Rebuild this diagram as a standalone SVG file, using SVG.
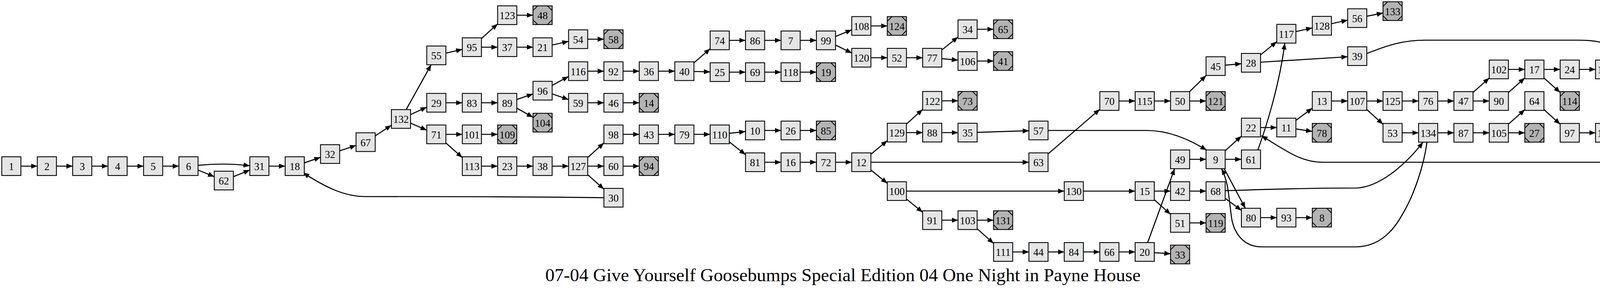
<svg xmlns="http://www.w3.org/2000/svg" xmlns:xlink="http://www.w3.org/1999/xlink" width="4320" height="741" viewBox="0 0 4320 741">
<style>
.node rect{fill:#e5e5e5;stroke:#000;stroke-width:2.2}
.term rect{fill:#b3b3b3}
.node text{font-family:"Liberation Serif","Times New Roman",serif;font-size:26.5px;text-anchor:middle;fill:#000}
.edges path{stroke:#000;stroke-width:2.7;fill:none;marker-end:url(#ah)}
.title{font-family:"Liberation Serif","Times New Roman",serif;font-size:47.3px;text-anchor:middle;fill:#000}
</style>
<defs>
<marker id="ah" markerUnits="userSpaceOnUse" viewBox="0 0 16 13" markerWidth="16" markerHeight="13" refX="16" refY="6.5" orient="auto"><path d="M0,0 L16,6.5 L0,13 z" fill="#000"/></marker>
<path id="diag" d="M-24.5,-12 L-12.5,-24 M12.5,-24 L24.5,-12 M24.5,12 L12.5,24 M-12.5,24 L-24.5,12" stroke="#000" stroke-width="2" fill="none"/>
</defs>
<rect width="4320" height="741" fill="#fff"/>
<g id="connectors" class="edges">
<path d="M53.5,426 L95.5,426"/>
<path d="M144.5,426 L186,426"/>
<path d="M235,426 L276.5,426"/>
<path d="M325.5,426 L367.5,426"/>
<path d="M416.5,426 L458,426"/>
<path d="M507,424 Q573,417 639.5,425"/>
<path d="M507,436 L548.5,453"/>
<path d="M597.5,453 L639.5,436"/>
<path d="M688.5,426 L730,426"/>
<path d="M779,417.6 L820.5,403.4"/>
<path d="M869.5,386.8 L911.5,372.7"/>
<path d="M960.5,348.4 L1002,321.1"/>
<path d="M1039.8,281 L1103.7,166"/>
<path d="M1051,293.8 L1092.5,274.7"/>
<path d="M1051,315.7 L1092.5,333.8"/>
<path d="M1141.5,136.3 L1183.5,126.6"/>
<path d="M1232.5,98.8 L1274,61.2"/>
<path d="M1232.5,121 L1274,121"/>
<path d="M1323,39 L1364.5,39"/>
<path d="M1323,121 L1364.5,121"/>
<path d="M1413.5,115.5 L1455.5,106"/>
<path d="M1141.5,263.5 L1183.5,263.5"/>
<path d="M1232.5,263.5 L1274,263.5"/>
<path d="M1323,255.1 L1364.5,240.9"/>
<path d="M1323,277.3 L1364.5,300.7"/>
<path d="M1413.5,219 L1455.5,196"/>
<path d="M1413.5,240.8 L1455.5,255.2"/>
<path d="M1141.5,344.5 L1183.5,344.5"/>
<path d="M1232.5,344.5 L1274,344.5"/>
<path d="M1141.5,366.4 L1183.5,404.1"/>
<path d="M1232.5,426 L1274,426"/>
<path d="M1323,426 L1364.5,426"/>
<path d="M1413.5,426 L1455.5,426"/>
<path d="M1546,507 C1400,504 1000,504 935,504 C880,504 830,478 776,443"/>
<path d="M1504.5,100.5 L1546,100.5"/>
<path d="M1504.5,182.5 L1546,182.5"/>
<path d="M1595,182.5 L1636.5,182.5"/>
<path d="M1685.5,182.5 L1727.5,182.5"/>
<path d="M1776.5,161.1 L1818,124.9"/>
<path d="M1776.5,183.2 L1818,184.3"/>
<path d="M1867,103.5 L1908.5,103.5"/>
<path d="M1957.5,103.5 L1999.5,103.5"/>
<path d="M2048.5,103.5 L2090,103.5"/>
<path d="M2139,93.5 L2180.5,76.5"/>
<path d="M2139,115.5 L2180.5,136"/>
<path d="M1867,185 L1908.5,185"/>
<path d="M1957.5,185 L1999.5,185"/>
<path d="M2048.5,185 L2090,185"/>
<path d="M1504.5,263.5 L1546,263.5"/>
<path d="M1595,263.5 L1636.5,263.5"/>
<path d="M1504.5,403.9 L1546,366.6"/>
<path d="M1504.5,426 L1546,426"/>
<path d="M1504.5,447.9 L1546,485.1"/>
<path d="M1595,426 L1636.5,426"/>
<path d="M1595,344.5 L1636.5,344.5"/>
<path d="M1685.5,344.5 L1727.5,344.5"/>
<path d="M1776.5,344.5 L1818,344.5"/>
<path d="M1867,341.8 L1908.5,337.2"/>
<path d="M1867,363.9 L1908.5,396.6"/>
<path d="M1957.5,334.5 L1999.5,334.5"/>
<path d="M2048.5,334.5 L2090,334.5"/>
<path d="M1957.5,416 L1999.5,416"/>
<path d="M2048.5,416 L2090,416"/>
<path d="M2139,416 L2180.5,416"/>
<path d="M2229.5,66.5 L2271.5,66.5"/>
<path d="M2229.5,148 L2271.5,148"/>
<path d="M2320.5,148 L2362,148"/>
<path d="M2411,128.2 L2452.5,94.8"/>
<path d="M2411,150.3 L2452.5,154.2"/>
<path d="M2501.5,75 L2543.5,75"/>
<path d="M2501.5,156.5 L2543.5,156.5"/>
<path d="M2229.5,395.5 L2271.5,360.5"/>
<path d="M2229.5,416 L2634,416"/>
<path d="M2229.5,435.9 L2271.5,470.1"/>
<path d="M2320.5,317.9 L2362,280.6"/>
<path d="M2320.5,340 L2362,340"/>
<path d="M2411,258.5 L2452.5,258.5"/>
<path d="M2411,340 L2452.5,340"/>
<path d="M2501.5,339.3 L2634,335.2"/>
<path d="M2683,334.5 L2935,334.5 C2990,334.5 3040,355 3089,385"/>
<path d="M2683,394.8 L2815.5,280.2"/>
<path d="M2864.5,259 L2906,259"/>
<path d="M2320.5,490 L2724.5,490"/>
<path d="M2320.5,510.2 L2362,544.3"/>
<path d="M2773.5,490 L2906,490"/>
<path d="M2411,564.5 L2452.5,564.5"/>
<path d="M2501.5,564.5 L2543.5,564.5"/>
<path d="M2501.5,586.4 L2543.5,624.1"/>
<path d="M2592.5,646 L2634,646"/>
<path d="M2683,646 L2724.5,646"/>
<path d="M2773.5,646 L2815.5,646"/>
<path d="M2864.5,646 L2906,646"/>
<path d="M2955,259 L2996.5,259"/>
<path d="M3045.4,235 L3087.6,193.5"/>
<path d="M3045.5,259 L3087.5,259"/>
<path d="M3136.5,167.2 L3178,163.3"/>
<path d="M3227,140.8 L3268.5,106.7"/>
<path d="M3227,159.5 L3450,145.5"/>
<path d="M3317.5,81 L3359.5,71.5"/>
<path d="M3408.5,60.7 L3450,51.8"/>
<path d="M3499,41.6 L3540.5,33.4"/>
<path d="M3499,137 C3540,122 3580,103 3650,103 L4040,103 C4090,103 4120,110 4140,135 C4165,170 4183,250 4192,316.5"/>
<path d="M3220,385 C3240,330 3275,220 3289,111"/>
<path d="M3136.5,386.4 L3178,349.1"/>
<path d="M3136.5,408.5 L3178,408.5"/>
<path d="M3045.5,408.5 L3087.5,408.5"/>
<path d="M2955,490 L2996.5,490"/>
<path d="M2955,512.1 L2996.5,549.4"/>
<path d="M3045.5,490 L3087.5,490"/>
<path d="M3045.5,571.5 L3087.5,571.5"/>
<path d="M2938,622 L3007,432.5"/>
<path d="M2955,647.8 L2996.5,650.7"/>
<path d="M3227,327 L3268.5,327"/>
<path d="M3317.5,308.7 L3359.5,277.3"/>
<path d="M3317.5,330.6 L3359.5,336.9"/>
<path d="M3408.5,259 L3450,259"/>
<path d="M3499,259 L3540.5,259"/>
<path d="M3499,281.1 L3540.5,318.4"/>
<path d="M3589.5,259 L3631.5,259"/>
<path d="M3589.5,340.5 L3631.5,340.5"/>
<path d="M3136.5,508.4 L3178,539.6"/>
<path d="M3134,432.5 L3188,534"/>
<path d="M3653,365 C3645,425 3620,500 3590,550 C3560,605 3520,633 3470,633 L3230,633 C3185,633 3160,600 3153,560 C3146,510 3145,465 3127,432.5"/>
<path d="M3136.5,489 C3250,485 3400,482 3475,482 C3535,478 3600,420 3643,364.5"/>
<path d="M3227,558 L3268.5,558"/>
<path d="M3317.5,558 L3359.5,558"/>
<path d="M4266,385 C4220,400 4160,416 4100,416 L3385,416 C3330,416 3290,385 3229,348"/>
<path d="M3680.5,259 L3722,259"/>
<path d="M3771,237.1 L3812.5,199.9"/>
<path d="M3771,259 L3812.5,259"/>
<path d="M3861.5,178 L3903.5,178"/>
<path d="M3861.5,237.2 L3903.5,199.8"/>
<path d="M3952.5,178 L3994,178"/>
<path d="M3952.5,199.9 L3994,237.1"/>
<path d="M4043,178 L4084.5,178"/>
<path d="M4133.5,178 L4175.5,178"/>
<path d="M3680.5,340.5 L3722,340.5"/>
<path d="M3771,340.5 L3812.5,340.5"/>
<path d="M3861.5,318.6 L3903.5,280.9"/>
<path d="M3861.5,340.5 L3903.5,340.5"/>
<path d="M3952.5,281.1 L3994,318.4"/>
<path d="M4043,340.5 L4084.5,340.5"/>
<path d="M4133.5,340.5 L4175.5,340.5"/>
<path d="M4224.5,350.7 L4266,367.9"/>
</g>
<g id="n1" class="node" transform="translate(29,426)"><rect x="-24.5" y="-24" width="49" height="48"/><text y="10">1</text></g>
<g id="n2" class="node" transform="translate(120,426)"><rect x="-24.5" y="-24" width="49" height="48"/><text y="10">2</text></g>
<g id="n3" class="node" transform="translate(210.5,426)"><rect x="-24.5" y="-24" width="49" height="48"/><text y="10">3</text></g>
<g id="n4" class="node" transform="translate(301,426)"><rect x="-24.5" y="-24" width="49" height="48"/><text y="10">4</text></g>
<g id="n5" class="node" transform="translate(392,426)"><rect x="-24.5" y="-24" width="49" height="48"/><text y="10">5</text></g>
<g id="n6" class="node" transform="translate(482.5,426)"><rect x="-24.5" y="-24" width="49" height="48"/><text y="10">6</text></g>
<g id="n62" class="node" transform="translate(573,463)"><rect x="-24.5" y="-24" width="49" height="48"/><text y="10">62</text></g>
<g id="n31" class="node" transform="translate(664,426)"><rect x="-24.5" y="-24" width="49" height="48"/><text y="10">31</text></g>
<g id="n18" class="node" transform="translate(754.5,426)"><rect x="-24.5" y="-24" width="49" height="48"/><text y="10">18</text></g>
<g id="n32" class="node" transform="translate(845,395)"><rect x="-24.5" y="-24" width="49" height="48"/><text y="10">32</text></g>
<g id="n67" class="node" transform="translate(936,364.5)"><rect x="-24.5" y="-24" width="49" height="48"/><text y="10">67</text></g>
<g id="n132" class="node" transform="translate(1026.5,305)"><rect x="-24.5" y="-24" width="49" height="48"/><text y="10">132</text></g>
<g id="n55" class="node" transform="translate(1117,142)"><rect x="-24.5" y="-24" width="49" height="48"/><text y="10">55</text></g>
<g id="n29" class="node" transform="translate(1117,263.5)"><rect x="-24.5" y="-24" width="49" height="48"/><text y="10">29</text></g>
<g id="n71" class="node" transform="translate(1117,344.5)"><rect x="-24.5" y="-24" width="49" height="48"/><text y="10">71</text></g>
<g id="n95" class="node" transform="translate(1208,121)"><rect x="-24.5" y="-24" width="49" height="48"/><text y="10">95</text></g>
<g id="n83" class="node" transform="translate(1208,263.5)"><rect x="-24.5" y="-24" width="49" height="48"/><text y="10">83</text></g>
<g id="n101" class="node" transform="translate(1208,344.5)"><rect x="-24.5" y="-24" width="49" height="48"/><text y="10">101</text></g>
<g id="n113" class="node" transform="translate(1208,426)"><rect x="-24.5" y="-24" width="49" height="48"/><text y="10">113</text></g>
<g id="n123" class="node" transform="translate(1298.5,39)"><rect x="-24.5" y="-24" width="49" height="48"/><text y="10">123</text></g>
<g id="n37" class="node" transform="translate(1298.5,121)"><rect x="-24.5" y="-24" width="49" height="48"/><text y="10">37</text></g>
<g id="n89" class="node" transform="translate(1298.5,263.5)"><rect x="-24.5" y="-24" width="49" height="48"/><text y="10">89</text></g>
<g id="n109" class="node term" transform="translate(1298.5,344.5)"><rect x="-24.5" y="-24" width="49" height="48"/><use xlink:href="#diag"/><text y="10">109</text></g>
<g id="n23" class="node" transform="translate(1298.5,426)"><rect x="-24.5" y="-24" width="49" height="48"/><text y="10">23</text></g>
<g id="n48" class="node term" transform="translate(1389,39)"><rect x="-24.5" y="-24" width="49" height="48"/><use xlink:href="#diag"/><text y="10">48</text></g>
<g id="n21" class="node" transform="translate(1389,121)"><rect x="-24.5" y="-24" width="49" height="48"/><text y="10">21</text></g>
<g id="n96" class="node" transform="translate(1389,232.5)"><rect x="-24.5" y="-24" width="49" height="48"/><text y="10">96</text></g>
<g id="n104" class="node term" transform="translate(1389,314.5)"><rect x="-24.5" y="-24" width="49" height="48"/><use xlink:href="#diag"/><text y="10">104</text></g>
<g id="n38" class="node" transform="translate(1389,426)"><rect x="-24.5" y="-24" width="49" height="48"/><text y="10">38</text></g>
<g id="n54" class="node" transform="translate(1480,100.5)"><rect x="-24.5" y="-24" width="49" height="48"/><text y="10">54</text></g>
<g id="n116" class="node" transform="translate(1480,182.5)"><rect x="-24.5" y="-24" width="49" height="48"/><text y="10">116</text></g>
<g id="n59" class="node" transform="translate(1480,263.5)"><rect x="-24.5" y="-24" width="49" height="48"/><text y="10">59</text></g>
<g id="n127" class="node" transform="translate(1480,426)"><rect x="-24.5" y="-24" width="49" height="48"/><text y="10">127</text></g>
<g id="n58" class="node term" transform="translate(1570.5,100.5)"><rect x="-24.5" y="-24" width="49" height="48"/><use xlink:href="#diag"/><text y="10">58</text></g>
<g id="n92" class="node" transform="translate(1570.5,182.5)"><rect x="-24.5" y="-24" width="49" height="48"/><text y="10">92</text></g>
<g id="n46" class="node" transform="translate(1570.5,263.5)"><rect x="-24.5" y="-24" width="49" height="48"/><text y="10">46</text></g>
<g id="n98" class="node" transform="translate(1570.5,344.5)"><rect x="-24.5" y="-24" width="49" height="48"/><text y="10">98</text></g>
<g id="n60" class="node" transform="translate(1570.5,426)"><rect x="-24.5" y="-24" width="49" height="48"/><text y="10">60</text></g>
<g id="n30" class="node" transform="translate(1570.5,507)"><rect x="-24.5" y="-24" width="49" height="48"/><text y="10">30</text></g>
<g id="n36" class="node" transform="translate(1661,182.5)"><rect x="-24.5" y="-24" width="49" height="48"/><text y="10">36</text></g>
<g id="n14" class="node term" transform="translate(1661,263.5)"><rect x="-24.5" y="-24" width="49" height="48"/><use xlink:href="#diag"/><text y="10">14</text></g>
<g id="n43" class="node" transform="translate(1661,344.5)"><rect x="-24.5" y="-24" width="49" height="48"/><text y="10">43</text></g>
<g id="n94" class="node term" transform="translate(1661,426)"><rect x="-24.5" y="-24" width="49" height="48"/><use xlink:href="#diag"/><text y="10">94</text></g>
<g id="n40" class="node" transform="translate(1752,182.5)"><rect x="-24.5" y="-24" width="49" height="48"/><text y="10">40</text></g>
<g id="n79" class="node" transform="translate(1752,344.5)"><rect x="-24.5" y="-24" width="49" height="48"/><text y="10">79</text></g>
<g id="n74" class="node" transform="translate(1842.5,103.5)"><rect x="-24.5" y="-24" width="49" height="48"/><text y="10">74</text></g>
<g id="n25" class="node" transform="translate(1842.5,185)"><rect x="-24.5" y="-24" width="49" height="48"/><text y="10">25</text></g>
<g id="n110" class="node" transform="translate(1842.5,344.5)"><rect x="-24.5" y="-24" width="49" height="48"/><text y="10">110</text></g>
<g id="n86" class="node" transform="translate(1933,103.5)"><rect x="-24.5" y="-24" width="49" height="48"/><text y="10">86</text></g>
<g id="n69" class="node" transform="translate(1933,185)"><rect x="-24.5" y="-24" width="49" height="48"/><text y="10">69</text></g>
<g id="n10" class="node" transform="translate(1933,334.5)"><rect x="-24.5" y="-24" width="49" height="48"/><text y="10">10</text></g>
<g id="n81" class="node" transform="translate(1933,416)"><rect x="-24.5" y="-24" width="49" height="48"/><text y="10">81</text></g>
<g id="n7" class="node" transform="translate(2024,103.5)"><rect x="-24.5" y="-24" width="49" height="48"/><text y="10">7</text></g>
<g id="n118" class="node" transform="translate(2024,185)"><rect x="-24.5" y="-24" width="49" height="48"/><text y="10">118</text></g>
<g id="n26" class="node" transform="translate(2024,334.5)"><rect x="-24.5" y="-24" width="49" height="48"/><text y="10">26</text></g>
<g id="n16" class="node" transform="translate(2024,416)"><rect x="-24.5" y="-24" width="49" height="48"/><text y="10">16</text></g>
<g id="n99" class="node" transform="translate(2114.5,103.5)"><rect x="-24.5" y="-24" width="49" height="48"/><text y="10">99</text></g>
<g id="n19" class="node term" transform="translate(2114.5,185)"><rect x="-24.5" y="-24" width="49" height="48"/><use xlink:href="#diag"/><text y="10">19</text></g>
<g id="n85" class="node term" transform="translate(2114.5,334.5)"><rect x="-24.5" y="-24" width="49" height="48"/><use xlink:href="#diag"/><text y="10">85</text></g>
<g id="n72" class="node" transform="translate(2114.5,416)"><rect x="-24.5" y="-24" width="49" height="48"/><text y="10">72</text></g>
<g id="n108" class="node" transform="translate(2205,66.5)"><rect x="-24.5" y="-24" width="49" height="48"/><text y="10">108</text></g>
<g id="n120" class="node" transform="translate(2205,148)"><rect x="-24.5" y="-24" width="49" height="48"/><text y="10">120</text></g>
<g id="n12" class="node" transform="translate(2205,416)"><rect x="-24.5" y="-24" width="49" height="48"/><text y="10">12</text></g>
<g id="n124" class="node term" transform="translate(2296,66.5)"><rect x="-24.5" y="-24" width="49" height="48"/><use xlink:href="#diag"/><text y="10">124</text></g>
<g id="n52" class="node" transform="translate(2296,148)"><rect x="-24.5" y="-24" width="49" height="48"/><text y="10">52</text></g>
<g id="n129" class="node" transform="translate(2296,340)"><rect x="-24.5" y="-24" width="49" height="48"/><text y="10">129</text></g>
<g id="n100" class="node" transform="translate(2296,490)"><rect x="-24.5" y="-24" width="49" height="48"/><text y="10">100</text></g>
<g id="n77" class="node" transform="translate(2386.5,148)"><rect x="-24.5" y="-24" width="49" height="48"/><text y="10">77</text></g>
<g id="n122" class="node" transform="translate(2386.5,258.5)"><rect x="-24.5" y="-24" width="49" height="48"/><text y="10">122</text></g>
<g id="n88" class="node" transform="translate(2386.5,340)"><rect x="-24.5" y="-24" width="49" height="48"/><text y="10">88</text></g>
<g id="n91" class="node" transform="translate(2386.5,564.5)"><rect x="-24.5" y="-24" width="49" height="48"/><text y="10">91</text></g>
<g id="n34" class="node" transform="translate(2477,75)"><rect x="-24.5" y="-24" width="49" height="48"/><text y="10">34</text></g>
<g id="n106" class="node" transform="translate(2477,156.5)"><rect x="-24.5" y="-24" width="49" height="48"/><text y="10">106</text></g>
<g id="n73" class="node term" transform="translate(2477,258.5)"><rect x="-24.5" y="-24" width="49" height="48"/><use xlink:href="#diag"/><text y="10">73</text></g>
<g id="n35" class="node" transform="translate(2477,340)"><rect x="-24.5" y="-24" width="49" height="48"/><text y="10">35</text></g>
<g id="n103" class="node" transform="translate(2477,564.5)"><rect x="-24.5" y="-24" width="49" height="48"/><text y="10">103</text></g>
<g id="n65" class="node term" transform="translate(2568,75)"><rect x="-24.5" y="-24" width="49" height="48"/><use xlink:href="#diag"/><text y="10">65</text></g>
<g id="n41" class="node term" transform="translate(2568,156.5)"><rect x="-24.5" y="-24" width="49" height="48"/><use xlink:href="#diag"/><text y="10">41</text></g>
<g id="n131" class="node term" transform="translate(2568,564.5)"><rect x="-24.5" y="-24" width="49" height="48"/><use xlink:href="#diag"/><text y="10">131</text></g>
<g id="n111" class="node" transform="translate(2568,646)"><rect x="-24.5" y="-24" width="49" height="48"/><text y="10">111</text></g>
<g id="n57" class="node" transform="translate(2658.5,334.5)"><rect x="-24.5" y="-24" width="49" height="48"/><text y="10">57</text></g>
<g id="n63" class="node" transform="translate(2658.5,416)"><rect x="-24.5" y="-24" width="49" height="48"/><text y="10">63</text></g>
<g id="n44" class="node" transform="translate(2658.5,646)"><rect x="-24.5" y="-24" width="49" height="48"/><text y="10">44</text></g>
<g id="n130" class="node" transform="translate(2749,490)"><rect x="-24.5" y="-24" width="49" height="48"/><text y="10">130</text></g>
<g id="n84" class="node" transform="translate(2749,646)"><rect x="-24.5" y="-24" width="49" height="48"/><text y="10">84</text></g>
<g id="n70" class="node" transform="translate(2840,259)"><rect x="-24.5" y="-24" width="49" height="48"/><text y="10">70</text></g>
<g id="n66" class="node" transform="translate(2840,646)"><rect x="-24.5" y="-24" width="49" height="48"/><text y="10">66</text></g>
<g id="n115" class="node" transform="translate(2930.5,259)"><rect x="-24.5" y="-24" width="49" height="48"/><text y="10">115</text></g>
<g id="n15" class="node" transform="translate(2930.5,490)"><rect x="-24.5" y="-24" width="49" height="48"/><text y="10">15</text></g>
<g id="n20" class="node" transform="translate(2930.5,646)"><rect x="-24.5" y="-24" width="49" height="48"/><text y="10">20</text></g>
<g id="n50" class="node" transform="translate(3021,259)"><rect x="-24.5" y="-24" width="49" height="48"/><text y="10">50</text></g>
<g id="n49" class="node" transform="translate(3021,408.5)"><rect x="-24.5" y="-24" width="49" height="48"/><text y="10">49</text></g>
<g id="n42" class="node" transform="translate(3021,490)"><rect x="-24.5" y="-24" width="49" height="48"/><text y="10">42</text></g>
<g id="n51" class="node" transform="translate(3021,571.5)"><rect x="-24.5" y="-24" width="49" height="48"/><text y="10">51</text></g>
<g id="n33" class="node term" transform="translate(3021,652.5)"><rect x="-24.5" y="-24" width="49" height="48"/><use xlink:href="#diag"/><text y="10">33</text></g>
<g id="n45" class="node" transform="translate(3112,169.5)"><rect x="-24.5" y="-24" width="49" height="48"/><text y="10">45</text></g>
<g id="n121" class="node term" transform="translate(3112,259)"><rect x="-24.5" y="-24" width="49" height="48"/><use xlink:href="#diag"/><text y="10">121</text></g>
<g id="n9" class="node" transform="translate(3112,408.5)"><rect x="-24.5" y="-24" width="49" height="48"/><text y="10">9</text></g>
<g id="n68" class="node" transform="translate(3112,490)"><rect x="-24.5" y="-24" width="49" height="48"/><text y="10">68</text></g>
<g id="n119" class="node term" transform="translate(3112,571.5)"><rect x="-24.5" y="-24" width="49" height="48"/><use xlink:href="#diag"/><text y="10">119</text></g>
<g id="n28" class="node" transform="translate(3202.5,161)"><rect x="-24.5" y="-24" width="49" height="48"/><text y="10">28</text></g>
<g id="n22" class="node" transform="translate(3202.5,327)"><rect x="-24.5" y="-24" width="49" height="48"/><text y="10">22</text></g>
<g id="n61" class="node" transform="translate(3202.5,408.5)"><rect x="-24.5" y="-24" width="49" height="48"/><text y="10">61</text></g>
<g id="n80" class="node" transform="translate(3202.5,558)"><rect x="-24.5" y="-24" width="49" height="48"/><text y="10">80</text></g>
<g id="n117" class="node" transform="translate(3293,86.5)"><rect x="-24.5" y="-24" width="49" height="48"/><text y="10">117</text></g>
<g id="n11" class="node" transform="translate(3293,327)"><rect x="-24.5" y="-24" width="49" height="48"/><text y="10">11</text></g>
<g id="n93" class="node" transform="translate(3293,558)"><rect x="-24.5" y="-24" width="49" height="48"/><text y="10">93</text></g>
<g id="n128" class="node" transform="translate(3384,66)"><rect x="-24.5" y="-24" width="49" height="48"/><text y="10">128</text></g>
<g id="n13" class="node" transform="translate(3384,259)"><rect x="-24.5" y="-24" width="49" height="48"/><text y="10">13</text></g>
<g id="n78" class="node term" transform="translate(3384,340.5)"><rect x="-24.5" y="-24" width="49" height="48"/><use xlink:href="#diag"/><text y="10">78</text></g>
<g id="n8" class="node term" transform="translate(3384,558)"><rect x="-24.5" y="-24" width="49" height="48"/><use xlink:href="#diag"/><text y="10">8</text></g>
<g id="n56" class="node" transform="translate(3474.5,46.5)"><rect x="-24.5" y="-24" width="49" height="48"/><text y="10">56</text></g>
<g id="n39" class="node" transform="translate(3474.5,144)"><rect x="-24.5" y="-24" width="49" height="48"/><text y="10">39</text></g>
<g id="n107" class="node" transform="translate(3474.5,259)"><rect x="-24.5" y="-24" width="49" height="48"/><text y="10">107</text></g>
<g id="n133" class="node term" transform="translate(3565,28.5)"><rect x="-24.5" y="-24" width="49" height="48"/><use xlink:href="#diag"/><text y="10">133</text></g>
<g id="n125" class="node" transform="translate(3565,259)"><rect x="-24.5" y="-24" width="49" height="48"/><text y="10">125</text></g>
<g id="n53" class="node" transform="translate(3565,340.5)"><rect x="-24.5" y="-24" width="49" height="48"/><text y="10">53</text></g>
<g id="n76" class="node" transform="translate(3656,259)"><rect x="-24.5" y="-24" width="49" height="48"/><text y="10">76</text></g>
<g id="n134" class="node" transform="translate(3656,340.5)"><rect x="-24.5" y="-24" width="49" height="48"/><text y="10">134</text></g>
<g id="n47" class="node" transform="translate(3746.5,259)"><rect x="-24.5" y="-24" width="49" height="48"/><text y="10">47</text></g>
<g id="n87" class="node" transform="translate(3746.5,340.5)"><rect x="-24.5" y="-24" width="49" height="48"/><text y="10">87</text></g>
<g id="n102" class="node" transform="translate(3837,178)"><rect x="-24.5" y="-24" width="49" height="48"/><text y="10">102</text></g>
<g id="n90" class="node" transform="translate(3837,259)"><rect x="-24.5" y="-24" width="49" height="48"/><text y="10">90</text></g>
<g id="n105" class="node" transform="translate(3837,340.5)"><rect x="-24.5" y="-24" width="49" height="48"/><text y="10">105</text></g>
<g id="n17" class="node" transform="translate(3928,178)"><rect x="-24.5" y="-24" width="49" height="48"/><text y="10">17</text></g>
<g id="n64" class="node" transform="translate(3928,259)"><rect x="-24.5" y="-24" width="49" height="48"/><text y="10">64</text></g>
<g id="n27" class="node term" transform="translate(3928,340.5)"><rect x="-24.5" y="-24" width="49" height="48"/><use xlink:href="#diag"/><text y="10">27</text></g>
<g id="n24" class="node" transform="translate(4018.5,178)"><rect x="-24.5" y="-24" width="49" height="48"/><text y="10">24</text></g>
<g id="n114" class="node term" transform="translate(4018.5,259)"><rect x="-24.5" y="-24" width="49" height="48"/><use xlink:href="#diag"/><text y="10">114</text></g>
<g id="n97" class="node" transform="translate(4018.5,340.5)"><rect x="-24.5" y="-24" width="49" height="48"/><text y="10">97</text></g>
<g id="n112" class="node" transform="translate(4109,178)"><rect x="-24.5" y="-24" width="49" height="48"/><text y="10">112</text></g>
<g id="n126" class="node" transform="translate(4109,340.5)"><rect x="-24.5" y="-24" width="49" height="48"/><text y="10">126</text></g>
<g id="n135" class="node term" transform="translate(4200,178)"><rect x="-24.5" y="-24" width="49" height="48"/><use xlink:href="#diag"/><text y="10">135</text></g>
<g id="n75" class="node" transform="translate(4200,340.5)"><rect x="-24.5" y="-24" width="49" height="48"/><text y="10">75</text></g>
<g id="n82" class="node" transform="translate(4290.5,378)"><rect x="-24.5" y="-24" width="49" height="48"/><text y="10">82</text></g>
<text id="title" class="title" x="2158" y="721">07-04 Give Yourself Goosebumps Special Edition 04 One Night in Payne House</text>
</svg>
